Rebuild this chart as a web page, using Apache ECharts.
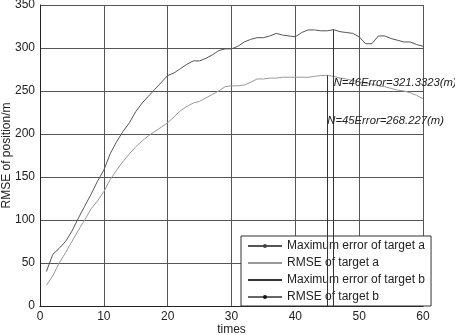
<!DOCTYPE html>
<html>
<head>
<meta charset="utf-8">
<script src="https://cdn.jsdelivr.net/npm/echarts@6/dist/echarts.min.js"></script>
<style>
  html, body { margin: 0; padding: 0; background: #fff; }
  #chart { width: 455px; height: 335px; }
</style>
</head>
<body>
<div id="chart"></div>
<script>
// times 1..60
const times = [];
for (let i = 1; i <= 60; i++) times.push(i);

// Maximum error of target a (upper curve)
const maxErrA = [40, 60, 67, 75, 87, 102, 116, 130, 145, 158,
  177, 191, 203, 213, 226, 236, 244, 252, 260, 268,
  271, 276, 281, 285, 285, 288, 292, 297, 299, 299,
  302, 307, 310, 312, 312, 314, 317, 315, 314, 313,
  318, 321, 321, 320, 320, 321.3323, 319, 318, 317, 313,
  305, 305, 314, 314, 311, 309, 307, 307, 304, 302];

// RMSE of target a (lower curve)
const rmseA = [24, 35, 50, 62, 75, 88, 100, 113, 122, 133,
  147, 158, 168, 177, 185, 192, 198, 203, 208, 213,
  220, 227, 232, 236, 238, 242, 246, 250, 255, 256,
  256, 257, 260, 264, 264, 265, 265, 266, 266, 266,
  266, 266, 267, 268, 268.227, 267, 265, 264, 262, 261,
  259, 258, 256, 255, 253, 251, 250, 248, 245, 241];

const legendNames = ["Maximum error of target a", "RMSE of target a",
  "Maximum error of target b", "RMSE of target b"];

// annotated points
const peakA = [46, 321.3323];
const peakRmse = [45, 268.227];

const pair = (ys) => ys.map((y, i) => [times[i], y]);

const chart = echarts.init(document.getElementById("chart"));
const font = "Liberation Sans, Arial, sans-serif";
const noDot = { color: "transparent", borderWidth: 0 };

chart.setOption({
  animation: false,
  backgroundColor: "#fff",
  grid: { left: 40, right: 32, top: 5, bottom: 29, containLabel: false, outerBoundsMode: "none" },
  xAxis: {
    type: "value",
    min: 0, max: 60, interval: 10,
    name: "times",
    nameLocation: "middle",
    nameGap: 18,
    nameMoveOverlap: false,
    nameTextStyle: { color: "#222", fontSize: 12, fontFamily: font },
    axisLine: { lineStyle: { color: "#222" } },
    axisTick: { show: false },
    axisLabel: { color: "#222", fontSize: 12, fontFamily: font, margin: 5 },
    splitLine: { show: true, lineStyle: { color: "#555", width: 1 } },
  },
  yAxis: {
    type: "value",
    min: 0, max: 350, interval: 50,
    name: "RMSE of position/m",
    nameLocation: "middle",
    nameGap: 27,
    nameMoveOverlap: false,
    nameTextStyle: { color: "#222", fontSize: 12, fontFamily: font },
    axisLine: { show: true, lineStyle: { color: "#222" } },
    axisTick: { show: false },
    axisLabel: { color: "#222", fontSize: 12, fontFamily: font, margin: 5 },
    splitLine: { show: true, lineStyle: { color: "#555", width: 1 } },
  },
  legend: {
    orient: "vertical",
    left: 241, top: 236,
    width: 182,
    padding: [4, 6, 3, 6],
    itemGap: 5,
    itemWidth: 34,
    itemHeight: 5,
    backgroundColor: "#fff",
    borderColor: "#333",
    borderWidth: 1,
    borderRadius: 0,
    textStyle: { color: "#222", fontSize: 12, fontFamily: font },
    data: [
      { name: legendNames[0], itemStyle: { color: "#444" } },
      { name: legendNames[1], itemStyle: noDot },
      { name: legendNames[2], itemStyle: noDot },
      { name: legendNames[3], itemStyle: { color: "#111" } },
    ],
  },
  series: [
    {
      name: legendNames[0],
      type: "line",
      data: pair(maxErrA),
      symbol: "circle",
      symbolSize: 3,
      showSymbol: false,
      color: "#555",
      lineStyle: { width: 1, color: "#555" },
      z: 3,
      markLine: {
        silent: true,
        symbol: "none",
        label: { show: false },
        lineStyle: { color: "#333", width: 1, type: "solid" },
        data: [[{ coord: peakA }, { coord: [peakA[0], 0] }]],
      },
      markPoint: {
        symbol: "circle",
        symbolSize: 0,
        data: [{ coord: peakA }],
        label: {
          show: true,
          position: "right",
          distance: 0,
          offset: [0, 53],
          color: "#222",
          fontSize: 11.3,
          fontStyle: "italic",
          fontFamily: font,
          formatter: () => "N=" + peakA[0] + "Error=" + peakA[1] + "(m)",
        },
      },
    },
    {
      name: legendNames[1],
      type: "line",
      data: pair(rmseA),
      symbol: "none",
      color: "#999",
      lineStyle: { width: 1, color: "#999" },
      z: 3,
      markLine: {
        silent: true,
        symbol: "none",
        label: { show: false },
        lineStyle: { color: "#333", width: 1, type: "solid" },
        data: [[{ coord: peakRmse }, { coord: [peakRmse[0], 0] }]],
      },
      markPoint: {
        symbol: "circle",
        symbolSize: 0,
        data: [{ coord: peakRmse }],
        label: {
          show: true,
          position: "right",
          distance: 0,
          offset: [0, 46],
          color: "#222",
          fontSize: 11.3,
          fontStyle: "italic",
          fontFamily: font,
          formatter: () => "N=" + peakRmse[0] + "Error=" + peakRmse[1] + "(m)",
        },
      },
    },
    {
      name: legendNames[2],
      type: "line",
      data: [],
      symbol: "none",
      color: "#333",
      lineStyle: { width: 1, color: "#333" },
    },
    {
      name: legendNames[3],
      type: "line",
      data: [],
      symbol: "circle",
      symbolSize: 3,
      color: "#222",
      lineStyle: { width: 1, color: "#666" },
    },
  ],
});
</script>
</body>
</html>
